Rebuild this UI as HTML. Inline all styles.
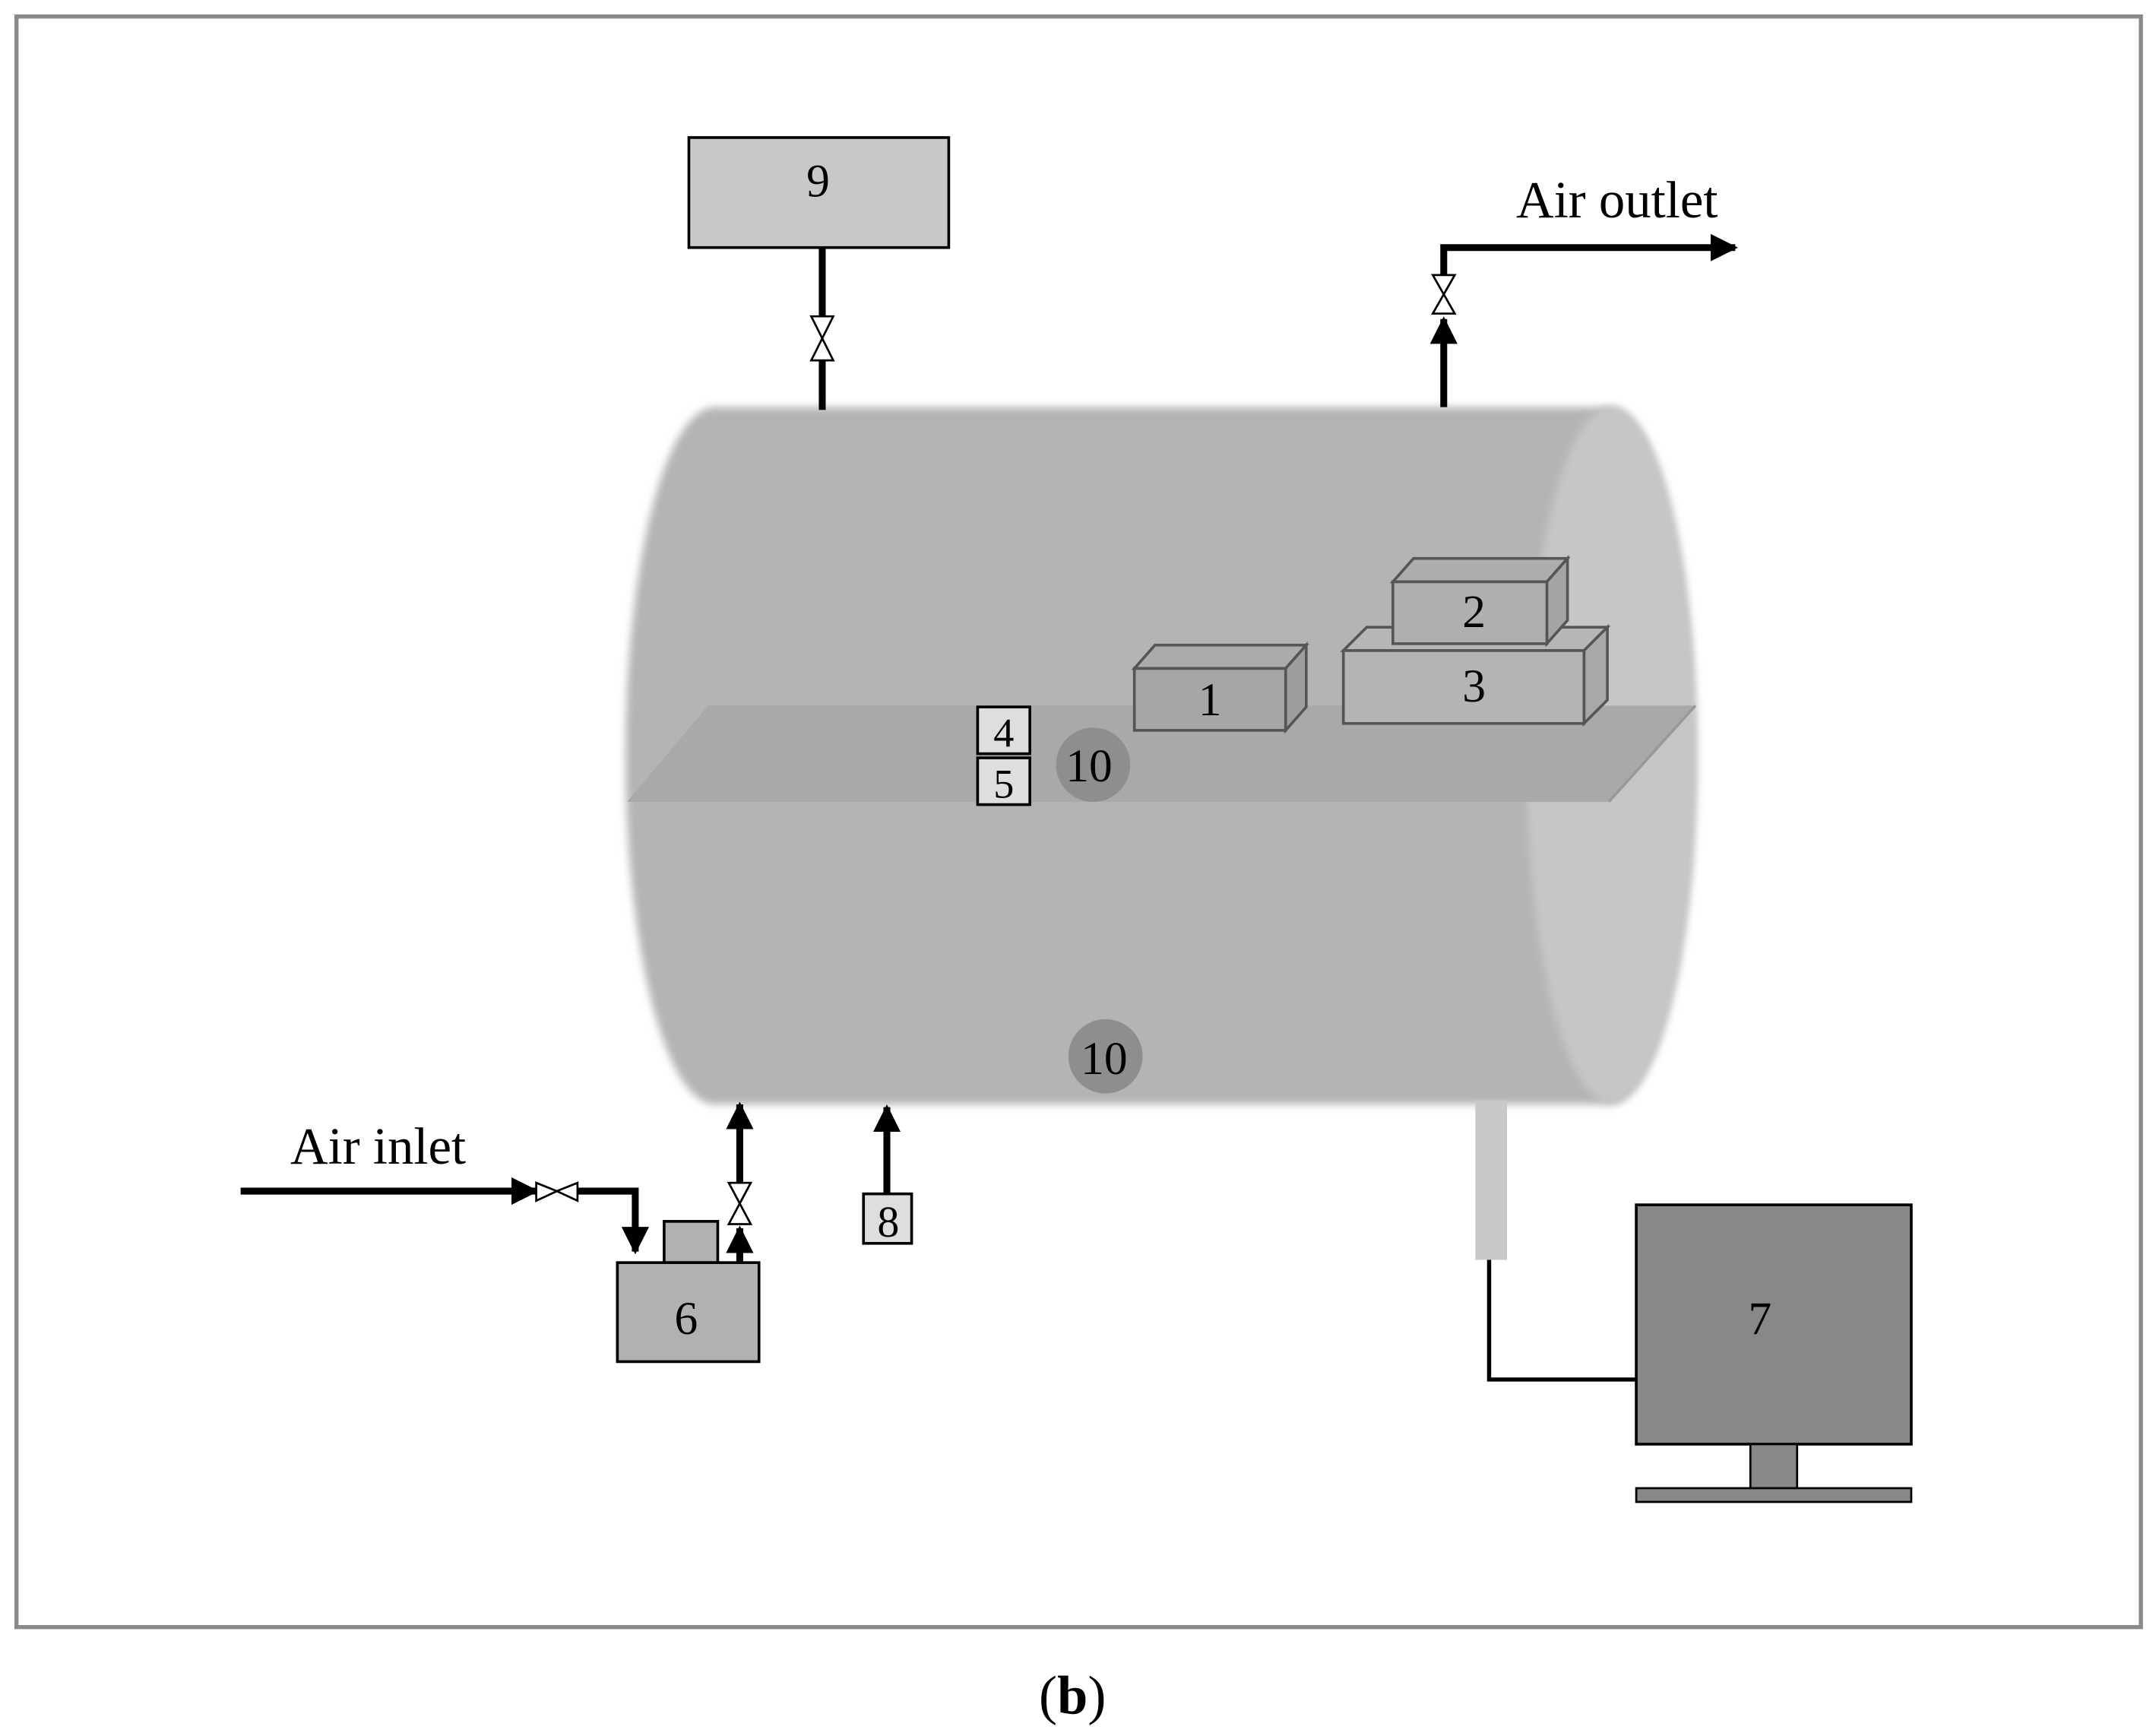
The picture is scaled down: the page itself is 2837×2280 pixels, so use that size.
<!DOCTYPE html>
<html><head><meta charset="utf-8"><style>html,body{margin:0;padding:0;background:#fff}svg{display:block}</style></head>
<body>
<svg width="2837" height="2280" viewBox="0 0 1568 1260" preserveAspectRatio="none" xmlns="http://www.w3.org/2000/svg" font-family="Liberation Serif, serif">
<defs>
<marker id="ah" viewBox="0 0 10 10" refX="9" refY="5" markerWidth="4" markerHeight="4" orient="auto"><path d="M0,0 L10,5 L0,10 Z" fill="#000"/></marker>
<filter id="bl"><feGaussianBlur stdDeviation="3"/></filter>
</defs>
<rect x="12" y="12" width="1545" height="1171" fill="#fff" stroke="#8a8a8a" stroke-width="3"/>
<path d="M520,296 L1170,296 A62,253 0 0 1 1170,803 L520,803 A65,253 0 0 1 520,296 Z" fill="#b4b4b4" filter="url(#bl)"/>
<ellipse cx="1172" cy="549" rx="62" ry="253" fill="#c6c6c6" filter="url(#bl)"/>
<polygon points="515,513 1233,513 1170,583 456,583" fill="#a9a9a9"/>
<line x1="1233" y1="513" x2="1170" y2="583" stroke="#999" stroke-width="2"/>
<g stroke="#555" stroke-width="2" fill="#a6a6a6">
<polygon points="825,486 840,469 950,469 935,486" fill="#ababab"/>
<polygon points="935,486 950,469 950,514 935,531" fill="#9e9e9e"/>
<rect x="825" y="486" width="110" height="45"/>
<polygon points="977,473 994,456 1169,456 1152,473" fill="#b6b6b6"/>
<polygon points="1152,473 1169,456 1169,509 1152,526" fill="#a8a8a8"/>
<rect x="977" y="473" width="175" height="53" fill="#b4b4b4"/>
<polygon points="1013,423 1028,406 1140,406 1125,423" fill="#adadad"/>
<polygon points="1125,423 1140,406 1140,451 1125,468" fill="#a4a4a4"/>
<rect x="1013" y="423" width="112" height="45" fill="#afafaf"/>
</g>
<g font-size="34" text-anchor="middle" fill="#000">
<text x="880" y="520">1</text>
<text x="1072" y="456">2</text>
<text x="1072" y="510">3</text>
</g>
<rect x="711" y="514" width="38" height="34" fill="#dedede" stroke="#000" stroke-width="2"/>
<rect x="711" y="551" width="38" height="34" fill="#dedede" stroke="#000" stroke-width="2"/>
<text x="730" y="543" font-size="30" text-anchor="middle">4</text>
<text x="730" y="580" font-size="30" text-anchor="middle">5</text>
<circle cx="795" cy="556" r="27" fill="#8e8e8e"/>
<circle cx="804" cy="768" r="27" fill="#8e8e8e"/>
<text x="792" y="568" font-size="34" text-anchor="middle">10</text>
<text x="803" y="781" font-size="34" text-anchor="middle">10</text>
<rect x="501" y="100" width="189" height="80" fill="#c8c8c8" stroke="#000" stroke-width="2"/>
<text x="595" y="143" font-size="34" text-anchor="middle">9</text>
<g stroke="#000" stroke-width="5" fill="none">
<line x1="598" y1="180" x2="598" y2="230"/>
<line x1="598" y1="262" x2="598" y2="298"/>
<line x1="1050" y1="296" x2="1050" y2="232" marker-end="url(#ah)"/>
<polyline points="1050,200 1050,180 1262,180" marker-end="url(#ah)"/>
<line x1="175" y1="866" x2="390" y2="866" marker-end="url(#ah)"/>
<polyline points="420,866 462,866 462,910" marker-end="url(#ah)"/>
<line x1="538" y1="918" x2="538" y2="893" marker-end="url(#ah)"/>
<line x1="538" y1="860" x2="538" y2="803" marker-end="url(#ah)"/>
<line x1="645" y1="868" x2="645" y2="805" marker-end="url(#ah)"/>
</g>
<g fill="#fff" stroke="#000" stroke-width="1.5">
<polygon points="590,230 606,230 598,246"/><polygon points="590,262 606,262 598,246"/>
<polygon points="1042,200 1058,200 1050,214"/><polygon points="1042,228 1058,228 1050,214"/>
<polygon points="390,860 390,873 405,866"/><polygon points="420,860 420,873 405,866"/>
<polygon points="530,860 546,860 538,875"/><polygon points="530,890 546,890 538,875"/>
</g>
<text x="1176" y="158" font-size="38" text-anchor="middle">Air outlet</text>
<text x="275" y="846" font-size="38" text-anchor="middle">Air inlet</text>
<rect x="483" y="888" width="39" height="30" fill="#b3b0b0" stroke="#000" stroke-width="2"/>
<rect x="449" y="918" width="103" height="72" fill="#b3b0b0" stroke="#000" stroke-width="2"/>
<text x="499" y="970" font-size="34" text-anchor="middle">6</text>
<rect x="628" y="868" width="35" height="36" fill="#dedede" stroke="#000" stroke-width="2"/>
<text x="646" y="899" font-size="32" text-anchor="middle">8</text>
<rect x="1073" y="800" width="23" height="116" fill="#c8c8c8"/>
<polyline points="1083,916 1083,1003 1190,1003" fill="none" stroke="#000" stroke-width="3"/>
<rect x="1190" y="876" width="200" height="174" fill="#888" stroke="#000" stroke-width="2"/>
<text x="1280" y="970" font-size="34" text-anchor="middle">7</text>
<rect x="1273" y="1050" width="34" height="32" fill="#888" stroke="#000" stroke-width="1.5"/>
<rect x="1190" y="1082" width="200" height="10" fill="#888" stroke="#000" stroke-width="1.5"/>
<text x="780" y="1246" font-size="40" text-anchor="middle">(<tspan font-weight="bold">b</tspan>)</text>
</svg>
</body></html>
